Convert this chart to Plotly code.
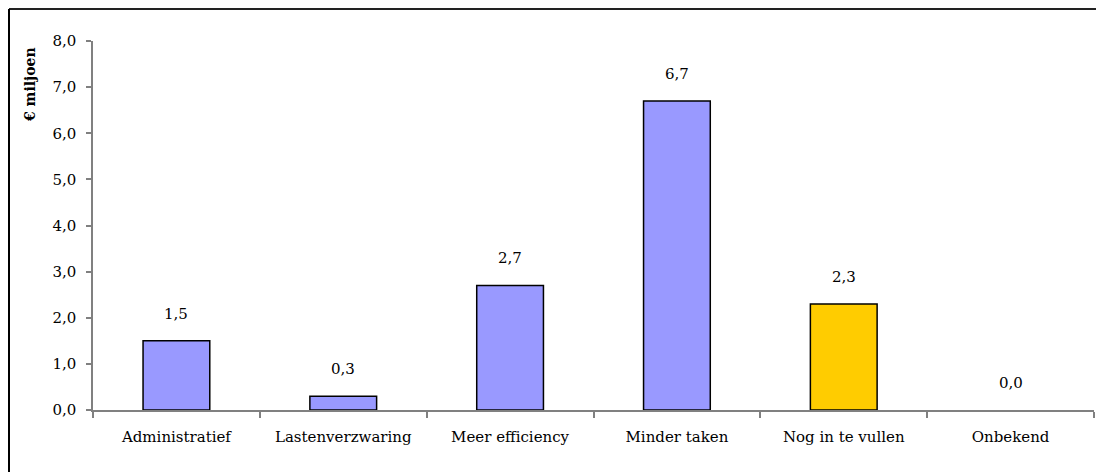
import plotly.graph_objects as go

categories = ["Administratief", "Lastenverzwaring", "Meer efficiency", "Minder taken", "Nog in te vullen", "Onbekend"]
values = [1.5, 0.3, 2.7, 6.7, 2.3, 0.0]
bar_colors = ["#9999FF", "#9999FF", "#9999FF", "#9999FF", "#FFCC00", "#9999FF"]
value_labels = ["1,5", "0,3", "2,7", "6,7", "2,3", "0,0"]
y_title = "€ miljoen"

W, H = 1104, 472
OFF = 8  # page body offset
ml = 93 - OFF
mt = 41 - OFF
mr = W - (1094 - OFF)
mb = H - (410 - OFF)
pw, ph = W - ml - mr, H - mt - mb

FONT = "DejaVu Serif"
FS = 15

fig = go.Figure()
fig.add_trace(go.Bar(
    x=categories, y=values, width=0.4,
    marker=dict(color=bar_colors,
                line=dict(color="black", width=[1.5 if v > 0 else 0 for v in values])),
    hoverinfo="skip",
))

for c, v, t in zip(categories, values, value_labels):
    fig.add_annotation(x=c, y=v, text=t, showarrow=False, yanchor="bottom", yshift=16,
                       font=dict(family=FONT, size=FS, color="black"))

def px_x(p):
    return (p - OFF - ml) / pw

def px_y(p):
    return (H - mb - (p - OFF)) / ph

fig.add_annotation(xref="paper", yref="paper", x=px_x(30), y=px_y(84),
                   text="<b>" + y_title + "</b>", textangle=-90, showarrow=False,
                   xanchor="center", yanchor="middle",
                   font=dict(family=FONT, size=14, color="black"))

# outer frame (top and left edges visible)
fig.add_shape(type="line", xref="paper", yref="paper", x0=px_x(9), x1=px_x(1130), y0=px_y(9), y1=px_y(9),
              line=dict(color="#222222", width=2))
fig.add_shape(type="line", xref="paper", yref="paper", x0=px_x(9), x1=px_x(9), y0=px_y(9), y1=px_y(500),
              line=dict(color="black", width=2))

fig.update_layout(
    width=W, height=H,
    margin=dict(l=ml, r=mr, t=mt, b=mb),
    plot_bgcolor="white", paper_bgcolor="white",
    separators=",.",
    showlegend=False,
    bargap=0.6,
    font=dict(family=FONT, size=FS, color="black"),
)
fig.update_xaxes(
    type="category", tickson="boundaries", ticks="outside", ticklen=6, tickcolor="#808080", tickwidth=1.5,
    showline=True, linecolor="#808080", linewidth=2, showgrid=False,
    tickfont=dict(family=FONT, size=FS, color="black"), ticklabelstandoff=12,
)
fig.update_yaxes(
    range=[0, 8], dtick=1, tickformat=".1f", ticks="outside", ticklen=5, tickcolor="#808080", tickwidth=1.5,
    showline=True, linecolor="#808080", linewidth=1.5, showgrid=False, zeroline=False,
    tickfont=dict(family=FONT, size=FS, color="black"), ticklabelstandoff=7,
)

fig.write_html("out.html")
